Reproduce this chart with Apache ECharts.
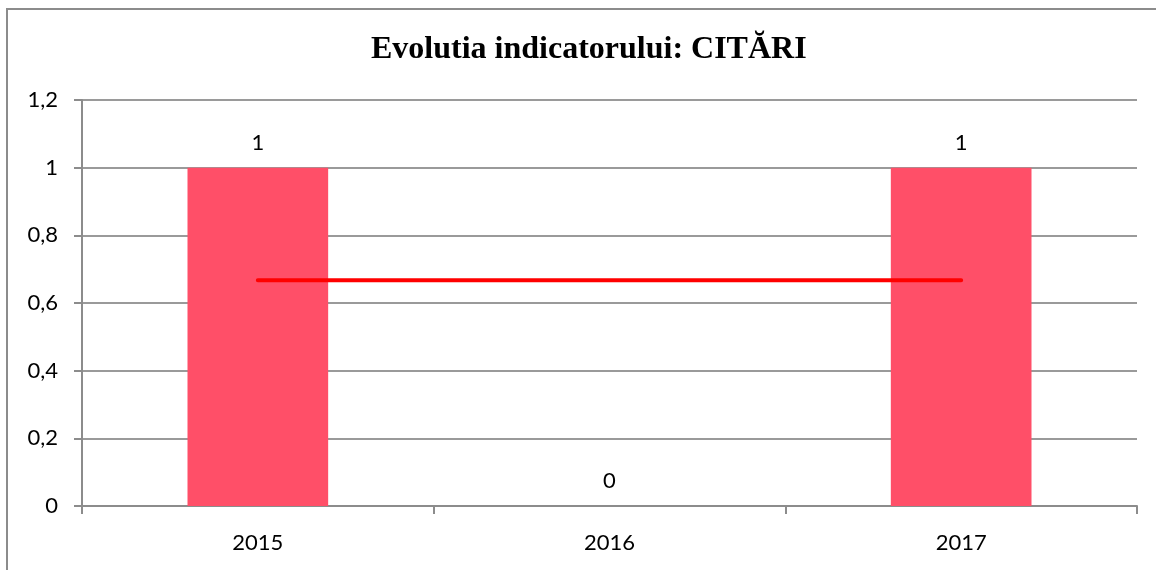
<!DOCTYPE html>
<html lang="ro">
<head>
    <meta charset="UTF-8">
    <title>Evolutia indicatorului: CITĂRI</title>
    <script src="https://cdn.jsdelivr.net/npm/echarts@6/dist/echarts.min.js"></script>
</head>
<body style="margin:0;background:#fff">
<div id="chart" style="width:1156px;height:570px"></div>

<script>
    // datele graficului
    const years = ['2015', '2016', '2017']
    const citari = [1, 0, 1]
    const media = [0.667, 0.667, 0.667]
    const yTicks = [0, 0.2, 0.4, 0.6, 0.8, 1, 1.2]

    const labelFont = 'Lato, "Open Sans", sans-serif'

    let myChart = echarts.init(document.getElementById('chart'))

    let option = {
        animation: false,
        title: {
            text: 'Evolutia indicatorului: CITĂRI',
            left: 366,
            top: 29,
            textStyle: {
                fontFamily: '"Liberation Serif", serif',
                fontWeight: 'bold',
                fontSize: 32,
                color: '#000'
            }
        },
        graphic: [{
            type: 'rect',
            shape: {x: 7, y: 9, width: 1170, height: 580},
            style: {fill: 'none', stroke: '#8c8c8c', lineWidth: 2},
            silent: true
        }],
        grid: {
            left: 82,
            right: 19,
            top: 100,
            bottom: 64
        },
        xAxis: {
            type: 'category',
            data: years,
            axisLine: {lineStyle: {color: '#8c8c8c', width: 2}},
            axisTick: {show: true, length: 8, lineStyle: {color: '#8c8c8c', width: 2}},
            axisLabel: {margin: 26, fontSize: 22, fontFamily: labelFont, color: '#000'}
        },
        yAxis: {
            type: 'value',
            min: yTicks[0],
            max: yTicks[yTicks.length - 1],
            interval: 0.2,
            axisLine: {show: true, lineStyle: {color: '#8c8c8c', width: 2}},
            axisTick: {show: true, length: 8, lineStyle: {color: '#8c8c8c', width: 2}},
            splitLine: {lineStyle: {color: '#9a9a9a', width: 2}},
            axisLabel: {
                margin: 24,
                fontSize: 22,
                fontFamily: labelFont,
                color: '#000',
                formatter: v => String(+v.toFixed(1)).replace('.', ',')
            }
        },
        series: [
            {
                name: 'Citări',
                type: 'bar',
                data: citari,
                barWidth: '40%',
                itemStyle: {color: '#FF4F68'},
                label: {
                    show: true,
                    position: 'top',
                    distance: 14,
                    fontSize: 22,
                    fontFamily: labelFont,
                    color: '#000'
                }
            },
            {
                name: 'Media',
                type: 'line',
                data: media,
                symbol: 'none',
                lineStyle: {color: '#FF0000', width: 4, cap: 'round'},
                z: 5
            }
        ]
    };

    myChart.setOption(option)
</script>
</body>
</html>
